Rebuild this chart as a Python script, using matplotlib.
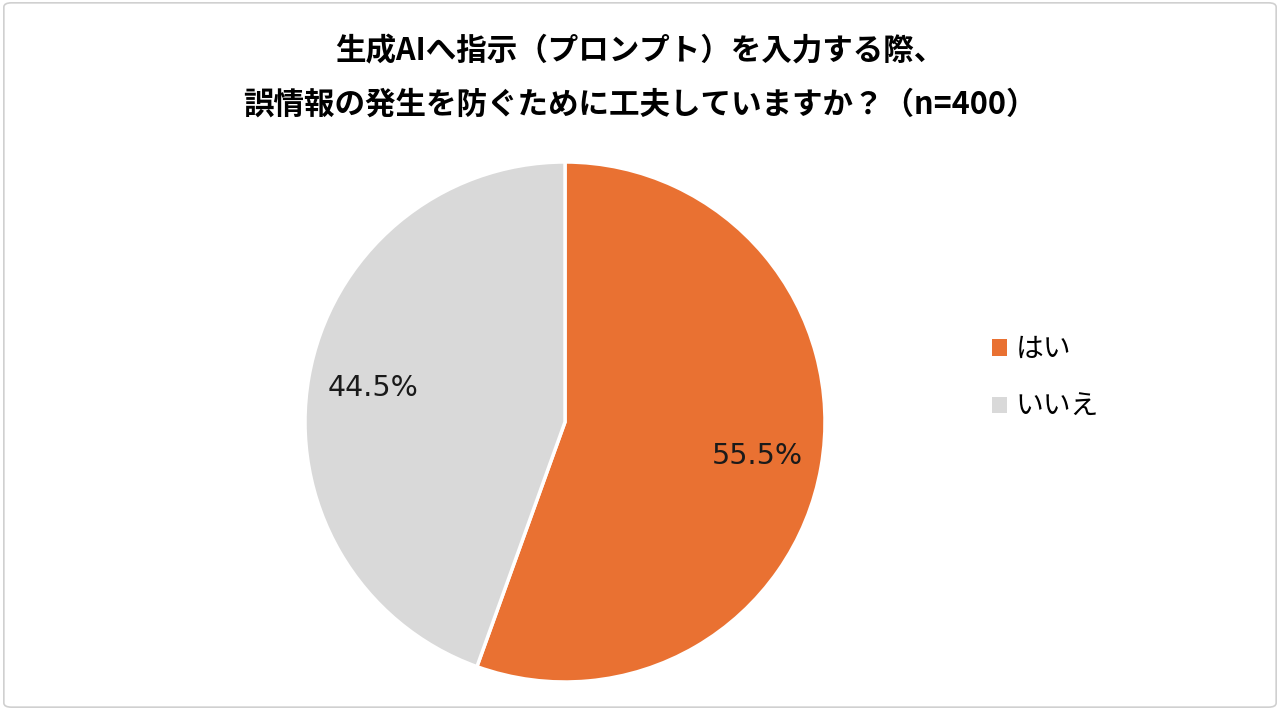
import matplotlib.pyplot as plt
from matplotlib.patches import Patch, FancyBboxPatch

plt.rcParams['font.family'] = ['Noto Sans CJK JP', 'DejaVu Sans']

labels = ['はい', 'いいえ']
values = [55.5, 44.5]
colors = ['#E97132', '#D9D9D9']
title = '生成AIへ指示（プロンプト）を入力する際、\n誤情報の発生を防ぐために工夫していますか？（n=400）'

fig = plt.figure(figsize=(12.8, 7.1), dpi=100)

# light frame around the chart
frame = FancyBboxPatch((0.003, 0.004), 0.994, 0.992, boxstyle='round,pad=0,rounding_size=0.006',
                       transform=fig.transFigure, facecolor='none', edgecolor='#D0D0D0', lw=1.2)
fig.patches.append(frame)

cx, cy, r = 565 / 1280, 1 - 422 / 710, 260
w, h = 2 * r / 1280, 2 * r / 710
ax = fig.add_axes([cx - w / 2, cy - h / 2, w, h])
ax.pie(values, colors=colors, startangle=90, counterclock=False, radius=1,
       autopct='%.1f%%', pctdistance=0.75,
       wedgeprops=dict(edgecolor='white', linewidth=2.5),
       textprops=dict(fontsize=20.5, color='#1a1a1a', family='DejaVu Sans'))
ax.set_xlim(-1, 1)
ax.set_ylim(-1, 1)
ax.set_aspect('equal')
ax.axis('off')

fig.text(0.5, 1 - 78 / 710, title, ha='center', va='center', fontsize=22, fontweight='bold',
         linespacing=1.85, color='black')

handles = [Patch(facecolor=c, edgecolor='none') for c in colors]
fig.legend(handles, labels, loc='center left', bbox_to_anchor=(967 / 1280, 1 - 378 / 710),
           frameon=False, fontsize=20, handlelength=0.55, handleheight=0.55,
           handletextpad=0.3, labelspacing=1.0)

fig.savefig('out.png', dpi=100)
